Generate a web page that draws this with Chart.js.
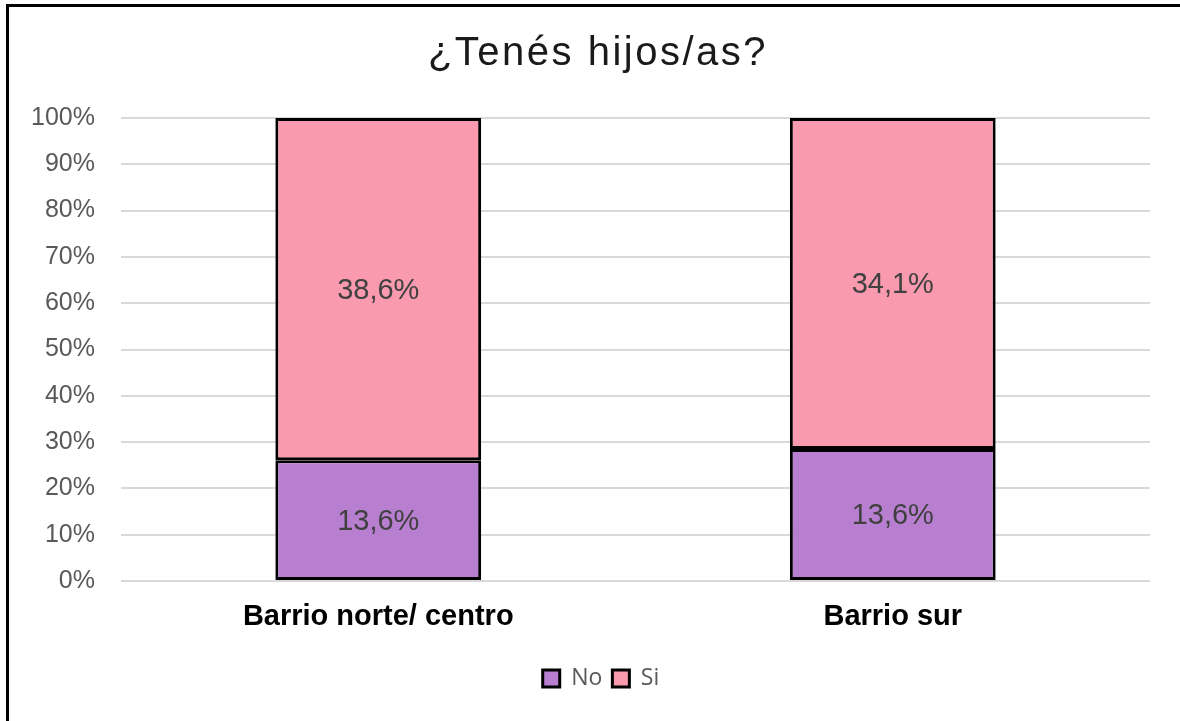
<!DOCTYPE html>
<html>
<head>
<meta charset="utf-8">
<script src="https://cdn.jsdelivr.net/npm/chart.js@4/dist/chart.umd.min.js"></script>
<style>
  html, body { margin: 0; padding: 0; background: #fff; }
  #chart { position: absolute; left: 0; top: 0; }
  #frame {
    position: absolute; left: 6px; top: 4px; right: 0; bottom: 0;
    border-top: 3px solid #000; border-left: 3px solid #000;
    pointer-events: none;
  }
</style>
</head>
<body>
<canvas id="chart" width="1180" height="721"></canvas>
<div id="frame"></div>
<script>
// Chart data
const chartTitle = "¿Tenés hijos/as?";
const categories = ["Barrio norte/ centro", "Barrio sur"];
const noValues = [13.6, 13.6];
const siValues = [38.6, 34.1];
const yTicks = [0, 10, 20, 30, 40, 50, 60, 70, 80, 90, 100];

// 100% stacked: each bar is scaled to its own total
const noShare = noValues.map((v, i) => v / (v + siValues[i]) * 100);
const siShare = siValues.map((v, i) => v / (noValues[i] + v) * 100);

const FONT = "'Liberation Sans', Arial, sans-serif";

// Title drawn by hand so it can get a little letter spacing
const titlePlugin = {
    id: "wideTitle",
    afterDraw(chart) {
        let ctx = chart.ctx;
        ctx.save();
        ctx.font = "40px " + FONT;
        ctx.letterSpacing = "2.5px";
        ctx.fillStyle = "#1a1a1a";
        ctx.textAlign = "center";
        ctx.textBaseline = "alphabetic";
        ctx.fillText(chartTitle, 598, 65);
        ctx.restore();
    }
};

// Legend sits a bit right of the canvas centre in the original
const legendShift = {
    id: "legendShift",
    afterLayout(chart) {
        chart.legend.left += 16;
        chart.legend.right += 16;
    }
};

// Draws the raw value in the middle of every segment
const segmentLabels = {
    id: "segmentLabels",
    afterDatasetsDraw(chart) {
        let ctx = chart.ctx;
        ctx.save();
        ctx.font = "29px " + FONT;
        ctx.fillStyle = "#404040";
        ctx.textAlign = "center";
        ctx.textBaseline = "middle";
        chart.data.datasets.forEach((ds, di) => {
            chart.getDatasetMeta(di).data.forEach((bar, i) => {
                let mid = (bar.y + bar.base) / 2 + 2;
                ctx.fillText(ds.raw[i].toFixed(1).replace(".", ",") + "%", bar.x, mid);
            });
        });
        ctx.restore();
    }
};

new Chart(document.getElementById("chart").getContext("2d"), {
    type: "bar",
    data: {
        labels: categories,
        datasets: [
            {
                label: "No",
                data: noShare,
                raw: noValues,
                backgroundColor: "#B87FD1",
                borderColor: "#000",
                borderWidth: 3,
                borderSkipped: false,
                categoryPercentage: 0.4,
                barPercentage: 1
            },
            {
                label: "Si",
                data: siShare,
                raw: siValues,
                backgroundColor: "#F99AAE",
                borderColor: "#000",
                borderWidth: 3,
                borderSkipped: false,
                categoryPercentage: 0.4,
                barPercentage: 1
            }
        ]
    },
    options: {
        responsive: false,
        animation: false,
        layout: { padding: { left: 20, right: 30, top: 118, bottom: 21 } },
        scales: {
            x: {
                stacked: true,
                afterFit(scale) { scale.height = 76; },
                grid: { display: false },
                border: { display: false },
                ticks: {
                    color: "#000",
                    padding: 11,
                    font: { family: FONT, size: 29, weight: "bold" }
                }
            },
            y: {
                stacked: true,
                min: 0,
                max: 100,
                afterFit(scale) { scale.width = 101; },
                afterBuildTicks(scale) { scale.ticks = yTicks.map(v => ({ value: v })); },
                grid: { color: "#D9D9D9", lineWidth: 2, drawTicks: false },
                border: { display: false },
                ticks: {
                    color: "#595959",
                    padding: 26,
                    font: { family: FONT, size: 25 },
                    callback: v => v + "%"
                }
            }
        },
        plugins: {
            title: { display: false },
            legend: {
                position: "bottom",
                labels: {
                    color: "#595959",
                    boxWidth: 17,
                    boxHeight: 17,
                    padding: 10,
                    font: { family: "'Open Sans', sans-serif", size: 23 }
                }
            },
            tooltip: { enabled: false }
        }
    },
    plugins: [segmentLabels, titlePlugin, legendShift]
});
</script>
</body>
</html>
